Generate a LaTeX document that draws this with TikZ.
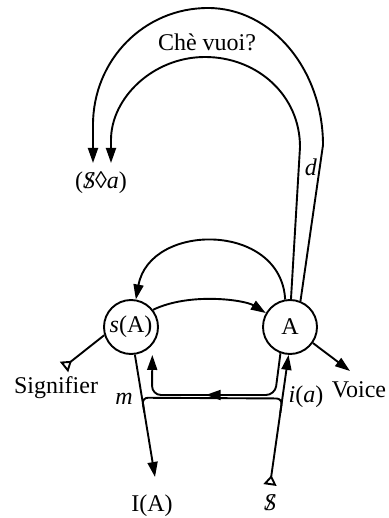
\documentclass[tikz,border=0pt]{standalone}
\usepackage{fontspec}
\setmainfont{Liberation Serif}
\usetikzlibrary{arrows.meta,decorations.markings,calc}
% barred subject
\newcommand\barS{{\ooalign{\itshape S\cr\hidewidth\itshape/\hidewidth\cr}}}

\begin{document}
\begin{tikzpicture}[x=1pt,y=-1pt,
  every node/.style={font=\fontsize{24}{28}\selectfont},
  line/.style={line width=1.9pt},
  fwd/.style={-{Triangle[length=15pt,width=10pt]}},
  place/.style={circle,draw,line width=1.9pt,minimum size=54pt,inner sep=0pt},
  midarrow/.style={postaction={decorate},
    decoration={markings,mark=at position 0.52 with {\arrow{Triangle[length=15pt,width=10pt]}}}}]
\useasboundingbox (0,0) rectangle (388,518);

% the two places
\node[place] (sA) at (131,327) {\textit{s}(A)};
\node[place] (A) at (290,327) {A};

% labels
\node (che) at (207,42) {Chè vuoi?};
\node (fant) at (101,183) {(\barS◊\textit{a})};
\node (dl) at (311,167) {\textit{d}};
\node (sig) at (56,388) {Signifier};
\node (voice) at (359,390) {Voice};
\node (ml) at (124,399) {\textit{m}};
\node (ial) at (306,397) {\textit{i}(\textit{a})};
\node (IA) at (152,506) {I(A)};
\node (Sb) at (270,503) {\barS};

% free ends
\coordinate (sigend) at (64,367);
\coordinate (voiceend) at (350,371);
\coordinate (mtip) at (155,477);
\coordinate (Sbot) at (270,485);

% s(A) -> A
\draw[line,fwd] (sA.38) .. controls (190,292) and (245,300) .. (A.150);
% A -> s(A), over the top
\draw[line,fwd] (A.100) .. controls (281,222) and (150,222) .. (sA.80);

% the two upper loops
\draw[line,fwd] (A.88) -- (300,147) .. controls (300,95) and (257,57) .. (205,57)
  .. controls (153,57) and (111,98) .. (111,140) -- (111,163);
\draw[line,fwd] (A.68) -- (323,145) .. controls (323,70) and (272,8) .. (208,8)
  .. controls (144,8) and (93,60) .. (93,125) -- (93,163);

% signifier and voice
\draw[line,{Triangle[open,reversed,length=10pt,width=13pt]}-] (sigend) -- (sA.197);
\draw[line,fwd] (A.-35) -- (voiceend);

% verticals
\draw[line,fwd] (sA.278) -- (mtip);
\draw[line,{Triangle[open,reversed,length=10pt,width=13pt]}-{Triangle[length=15pt,width=10pt]}] (Sbot) -- (A.267);

% return path from A to s(A)
\draw[line,fwd,midarrow,rounded corners=9pt,shorten >=10pt]
  (A.250) -- (275,395) -- (152,395) -- (sA.-40);

% lower bar between the verticals
\draw[line,rounded corners=6pt]
  ($(sA.278)!0.473!(mtip)$) -- ($(sA.278)!0.352!(mtip)$)
  -- ($(Sbot)!0.665!(A.267)$) -- ($(Sbot)!0.554!(A.267)$);
\end{tikzpicture}
\end{document}
